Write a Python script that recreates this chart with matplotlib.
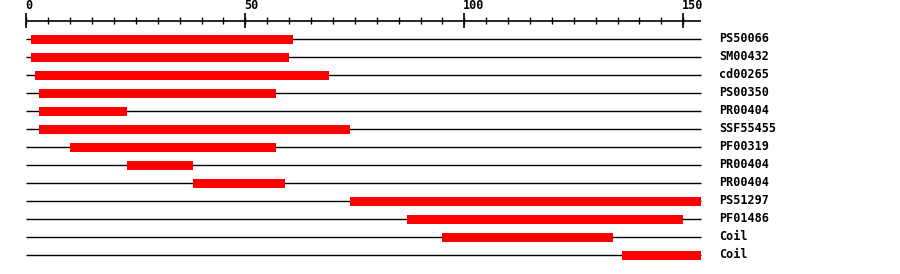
import numpy as np
import matplotlib
matplotlib.use("Agg")
import matplotlib.pyplot as plt

# domain hits along the sequence (start, end), top to bottom
labels = ['PS50066', 'SM00432', 'cd00265', 'PS00350', 'PR00404', 'SSF55455',
          'PF00319', 'PR00404', 'PR00404', 'PS51297', 'PF01486', 'Coil', 'Coil']
starts = [1, 1, 2, 3, 3, 3, 10, 23, 38, 74, 87, 95, 136]
ends = [61, 60, 69, 57, 23, 74, 57, 38, 59, 154, 150, 134, 154]
seq_len = 154

major_ticks = [0, 50, 100, 150]
minor_ticks = np.arange(0, seq_len + 1, 5)

px_per_unit = 4.38
x0_px = 26.3
W, H = 900, 274

fig = plt.figure(figsize=(W / 100, H / 100), dpi=100)
ax = fig.add_axes([0, 0, 1, 1])
ax.set_xlim(-x0_px / px_per_unit, (W - x0_px) / px_per_unit)
ax.set_ylim((H - 39) / 18, -39 / 18)
ax.axis('off')

font = dict(family='DejaVu Sans Mono', fontweight='bold', fontsize=8.5)

# scale on top
ax.hlines(-1, 0, seq_len, color='black', lw=1.2)
ax.vlines(minor_ticks, -1.22, -0.83, color='black', lw=1)
ax.vlines(major_ticks, -1.45, -0.6, color='black', lw=1.2)
for t in major_ticks:
    ax.text(t - 0.3, -1.5, str(t), ha='left', va='bottom', **font)

rows = np.arange(len(labels))
ax.hlines(rows, 0, seq_len, color='black', lw=1)
ax.barh(rows, np.array(ends) - np.array(starts), left=starts, height=0.5,
        color='#ff0000', zorder=3)
for r, lab in zip(rows, labels):
    ax.text(158.2, r, lab, ha='left', va='center', **font)

fig.savefig('out.png', dpi=100)
